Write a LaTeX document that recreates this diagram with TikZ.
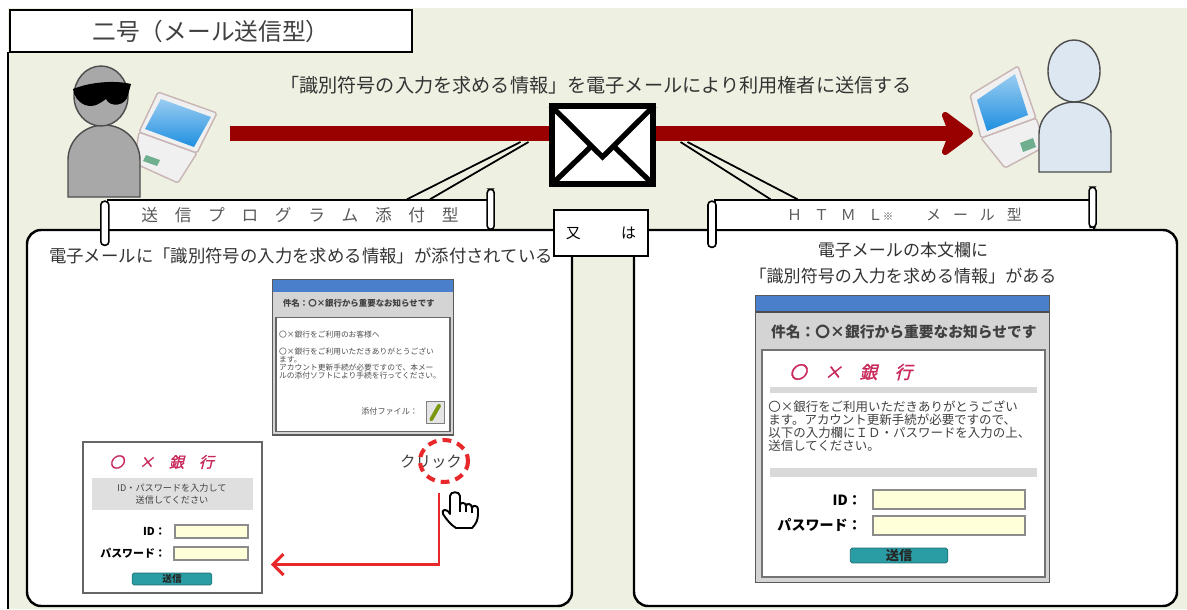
\documentclass[tikz,border=0pt]{standalone}
\usepackage{fontspec}
\setmainfont{Noto Sans CJK JP}
\newfontfamily\bankfont[FakeSlant=0.25,FakeBold=1.5]{Noto Sans CJK JP}
\usetikzlibrary{calc, arrows.meta}

\definecolor{bgbeige}{HTML}{EEF0E1}
\definecolor{darkred}{HTML}{990000}
\definecolor{barblue}{HTML}{4A7FCC}
\definecolor{winGrey}{HTML}{D4D4D4}
\definecolor{fieldYellow}{HTML}{FFFFD9}
\definecolor{btnTeal}{HTML}{2A9CA3}
\definecolor{bankPink}{HTML}{C8285A}
\definecolor{clickRed}{HTML}{E8282A}
\definecolor{hackerGrey}{HTML}{A8A8A8}
\definecolor{userBlue}{HTML}{DCE7F1}
\definecolor{screenBlue}{HTML}{1F8FE0}
\definecolor{touchGreen}{HTML}{6FAF8F}
\definecolor{lapFrame}{HTML}{C8B4B4}

\tikzset{
    fsize/.style={font=\fontsize{#1}{#1}\selectfont},
    scrollbody/.style={draw, fill=white, line width=0.9pt, inner sep=0pt, text=black!65},
    scrolltab/.style={draw, fill=white, line width=0.9pt, rounded corners=2pt},
    field/.style={draw=black!45, fill=fieldYellow, line width=0.7pt},
    sendbtn/.style={fill=btnTeal, draw=btnTeal!70!black, rounded corners=1pt, text=black!85, inner sep=0pt},
    laptop/.style={fill=black!6, draw=lapFrame, line width=0.8pt, rounded corners=1pt},
}

\begin{document}
\begin{tikzpicture}[x=0.02cm, y=-0.02cm]
    \useasboundingbox (0,0) rectangle (1187,609);

    % frame and title
    \fill [bgbeige] (8,8) rectangle (1187,609);
    \draw [line width=1.2pt] (8,52) -- (8,609);
    \draw [fill=white, line width=1.5pt] (10,10) rectangle (412,52);
    \node [fsize=13.5, text=black!75] (title) at (211,31) {二号（メール送信型）};

    % sender with sunglasses and laptop
    \draw [laptop] (139,132) -- (197,153) -- (178,183) -- (134,163) -- cycle;
    \fill [touchGreen] (146,155) -- (160,160) -- (157,166) -- (143,161) -- cycle;
    \draw [laptop] (158,92) -- (217,113) -- (197,153) -- (139,132) -- cycle;
    \shade [top color=screenBlue!45, bottom color=screenBlue] (161,99) -- (211,117) -- (194,147) -- (145,129) -- cycle;
    \draw [fill=hackerGrey, draw=black!70, line width=0.8pt] (68,197) -- (68,160) arc [start angle=180, end angle=360, x radius=36, y radius=35] -- (140,197) -- cycle;
    \draw [fill=hackerGrey, draw=black!70, line width=0.8pt] (101,96) ellipse [x radius=27, y radius=30];
    \fill [black] (73,89) .. controls (90,82) and (115,80) .. (131,84) -- (128,95)
        .. controls (126,106) and (110,108) .. (106,99) .. controls (100,103) and (95,108) .. (85,105)
        .. controls (78,102) and (74,96) .. cycle;

    % receiver with laptop
    \draw [laptop] (981,138) -- (1036,118) -- (1046,146) -- (1005,168) -- cycle;
    \fill [touchGreen] (1020,143) -- (1033,138) -- (1036,147) -- (1023,152) -- cycle;
    \draw [laptop] (970,95) -- (1018,66) -- (1036,118) -- (981,138) -- cycle;
    \shade [top color=screenBlue!45, bottom color=screenBlue] (977,100) -- (1015,74) -- (1028,115) -- (987,131) -- cycle;
    \draw [fill=userBlue, draw=black!70, line width=0.8pt] (1039,172) -- (1039,134) arc [start angle=180, end angle=360, x radius=36, y radius=32] -- (1111,172) -- cycle;
    \draw [fill=userBlue, draw=black!70, line width=0.8pt] (1074,71) ellipse [x radius=26, y radius=31];

    % message and red arrow
    \node [fsize=10.9, text=black!80] (msg) at (596,85) {「識別符号の入力を求める情報」を電子メールにより利用権者に送信する};
    \coordinate (sendFrom) at (230,133.5);
    \coordinate (sendTo) at (973,133.5);
    \draw [darkred, line width=8.5pt, -{Stealth[length=21pt, width=31pt, inset=6pt, round]}] (sendFrom) -- (sendTo);

    % panels
    \draw [line width=1.4pt, fill=white, rounded corners=8pt] (27,230) rectangle (572,606);
    \draw [line width=1.4pt, fill=white, rounded corners=8pt] (634,230) rectangle (1177,606);

    % scroll banners
    \node [scrollbody, minimum width=219pt, minimum height=17pt, fsize=9.5] (tenpu) at (300,215) {送　信　プ　ロ　グ　ラ　ム　添　付　型};
    \draw [scrolltab] ($(tenpu.north west)+(-6,2)$) rectangle ($(tenpu.north west)+(2,46)$);
    \draw [scrolltab] ($(tenpu.north east)+(-6,-10)$) rectangle ($(tenpu.north east)+(1,30)$);
    \node [scrollbody, minimum width=216pt, minimum height=17pt, fsize=8.5] (htmlmail) at (904.5,215)
        {Ｈ\hspace{.8em}Ｔ\hspace{.8em}Ｍ\hspace{.8em}Ｌ{\fontsize{6}{6}\selectfont ※}\hspace{2.2em}メ\hspace{.8em}ー\hspace{.8em}ル\hspace{.8em}型};
    \draw [scrolltab] ($(htmlmail.north west)+(-6,2)$) rectangle ($(htmlmail.north west)+(2,48)$);
    \draw [scrolltab] ($(htmlmail.north east)+(-6,-12)$) rectangle ($(htmlmail.north east)+(1,28)$);

    % envelope
    \node [draw, line width=3.4pt, fill=white, minimum width=58pt, minimum height=44pt, inner sep=0pt] (mail) at (602.5,145) {};
    \draw [line width=3pt] ($(mail.north west)+(2,2)$) -- ($(mail.center)+(0,12)$) -- ($(mail.north east)+(-2,2)$);
    \draw [line width=3pt] ($(mail.south west)+(4,-3)$) -- ($(mail.center)+(-12,2)$);
    \draw [line width=3pt] ($(mail.south east)+(-4,-3)$) -- ($(mail.center)+(12,2)$);

    % links from the mail to both banners
    \draw [line width=1pt] ($(mail.center)+(-82,-3)$) -- ($(tenpu.north)+(107,0)$);
    \draw [line width=1pt] ($(mail.center)+(-74,-3)$) -- ($(tenpu.north)+(130,0)$);
    \draw [line width=1pt] ($(mail.center)+(78,-3)$) -- ($(htmlmail.north)+(-134,0)$);
    \draw [line width=1pt] ($(mail.center)+(85,-3)$) -- ($(htmlmail.north)+(-107,0)$);

    \node [draw, fill=white, line width=1.2pt, minimum width=54pt, minimum height=26pt, inner sep=0pt, fsize=8.5] (orbox) at (601,233) {又\hspace{2.7em}は};

    \node [fsize=9.9, text=black!80] (tenpuNote) at (301,256) {電子メールに「識別符号の入力を求める情報」が添付されている};
    \node [font=\fontsize{9.7}{14.7}\selectfont, align=center, text=black!80] (htmlNote) at (903,263) {電子メールの本文欄に\\「識別符号の入力を求める情報」がある};

    % mail with attachment
    \node [draw=black!65, fill=winGrey, line width=0.8pt, minimum width=103pt, minimum height=88pt, inner sep=0pt] (mailwin) at (363,357.5) {};
    \fill [barblue] ($(mailwin.north west)+(1,1)$) rectangle ($(mailwin.north east)+(-1,13)$);
    \node [anchor=west, font=\fontsize{4.8}{4.8}\selectfont\bfseries, text=black!75] (mailSubj) at ($(mailwin.north west)+(5,24)$) {件名：〇×銀行から重要なお知らせです};
    \draw [draw=black!60, fill=white, line width=0.8pt] ($(mailwin.north west)+(4,38)$) rectangle ($(mailwin.south east)+(-4,-4)$);
    \node [anchor=north west, align=left, font=\fontsize{4.4}{4.6}\selectfont, text=black!70, inner sep=0pt] (mailBody) at ($(mailwin.north west)+(7,51)$)
        {〇×銀行をご利用のお客様へ\\[5pt]〇×銀行をご利用いただきありがとうござい\\ます。\\アカウント更新手続が必要ですので、本メー\\ルの添付ソフトにより手続を行ってください。};
    \node [anchor=east, fsize=4.6, text=black!70] (attach) at ($(mailwin.south east)+(-30,-24)$) {添付ファイル：};
    \draw [fill=black!10, draw=black!50, line width=0.6pt] ($(attach.east)+(2,-10)$) rectangle ($(attach.east)+(20,12)$);
    \draw [olive!70!green, line width=2.2pt, line cap=round] ($(attach.east)+(7,8)$) -- ($(attach.east)+(15,-6)$);

    % click
    \node [fsize=8.8, text=black!75] (click) at (431,462) {クリック};
    \draw [clickRed, line width=2.3pt, dash pattern=on 5pt off 3.5pt] (444,461) ellipse [x radius=24, y radius=21];

    % login page opened by the attachment
    \node [draw=black!60, fill=white, line width=1.3pt, minimum width=101.5pt, minimum height=85.6pt, inner sep=0pt] (login) at (172.5,517.5) {};
    \node [anchor=west, bankPink, font=\bankfont\fontsize{8.5}{8.5}\selectfont] (bankA) at (103,462) {〇\hspace{1em}×\hspace{1em}銀\hspace{1em}行};
    \fill [gray!25] (92,478) rectangle (253,510);
    \node [font=\fontsize{5.2}{7}\selectfont, align=center, text=black!75] (loginHint) at (172,494) {ID・パスワードを入力して\\送信してください};
    \node [anchor=east, font=\fontsize{6.2}{6.2}\selectfont\bfseries] (idA) at (172,531) {ID：};
    \draw [field] (175,525) rectangle (248,538);
    \node [anchor=east, font=\fontsize{6.2}{6.2}\selectfont\bfseries] (pwA) at (172,553) {パスワード：};
    \draw [field] (174,547) rectangle (248,560);
    \node [sendbtn, minimum width=45.4pt, minimum height=6.8pt, font=\fontsize{5.5}{5.5}\selectfont\bfseries] (sendA) at (172,579) {送信};

    \coordinate (clickFrom) at (439,493);
    \draw [clickRed, line width=1.7pt, -{Straight Barb[length=6pt, width=12pt]}] (clickFrom) |- ($(login.east)+(8,47)$);

    % pointing hand
    \draw [fill=white, line width=1.1pt, line join=round] (456,528) -- (472,528) .. controls (476,524) and (478,520) .. (478,514) -- (478,509)
        .. controls (478,505) and (472,505) .. (472,508) .. controls (472,503) and (466,503) .. (466,506)
        .. controls (466,502) and (460,502) .. (460,505) -- (460,496) .. controls (460,491) and (450,491) .. (450,496)
        -- (450,514) .. controls (447,508) and (441,509) .. (443,514) .. controls (446,519) and (451,525) .. (456,528) -- cycle;
    \draw [line width=0.8pt] (460,505) -- (460,512) (466,506) -- (466,512) (472,508) -- (472,513);

    % mail with the form in its body
    \node [draw=black!65, fill=winGrey, line width=0.9pt, minimum width=167.3pt, minimum height=163.3pt, inner sep=0pt] (htmlwin) at (902.5,439) {};
    \fill [barblue] (756,296) rectangle (1049,312);
    \draw [black!70, line width=0.8pt] (756,312) -- (1049,312);
    \node [anchor=west, font=\fontsize{8.4}{8.4}\selectfont\bfseries, text=black!75] (htmlSubj) at (765,332) {件名：〇×銀行から重要なお知らせです};
    \draw [draw=black!55, fill=white, line width=1.2pt] (762,350) rectangle (1045,577);
    \node [anchor=west, bankPink, font=\bankfont\fontsize{10}{10}\selectfont] (bankB) at (783,372) {〇\hspace{1em}×\hspace{1em}銀\hspace{1em}行};
    \fill [gray!30] (770,387) rectangle (1037,393);
    \node [anchor=north west, align=left, font=\fontsize{7.1}{7.4}\selectfont, text=black!75, inner sep=0pt] (htmlBody) at (768,400)
        {〇×銀行をご利用いただきありがとうござい\\ます。アカウント更新手続が必要ですので、\\以下の入力欄にＩＤ・パスワードを入力の上、\\送信してください。};
    \fill [gray!30] (770,468) rectangle (1037,477);
    \node [anchor=east, font=\fontsize{8}{8}\selectfont\bfseries] (idB) at (868,500) {ID：};
    \draw [field] (873,490) rectangle (1025,509);
    \node [anchor=east, font=\fontsize{8}{8}\selectfont\bfseries] (pwB) at (868,525) {パスワード：};
    \draw [field] (873,516) rectangle (1025,535);
    \node [sendbtn, minimum width=55.5pt, minimum height=8.5pt, font=\fontsize{7.5}{7.5}\selectfont\bfseries] (sendB) at (899,555.5) {送信};
\end{tikzpicture}
\end{document}
